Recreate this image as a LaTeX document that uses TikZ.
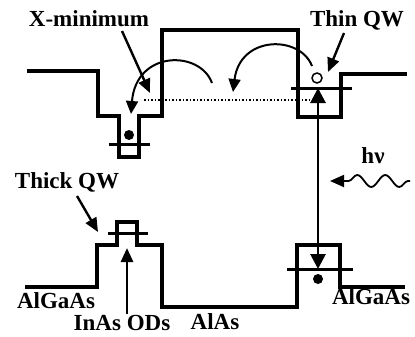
\documentclass[tikz,border=0pt]{standalone}
\usepackage{fontspec}
\setmainfont{Liberation Serif}
\usetikzlibrary{arrows.meta,decorations.pathmorphing}

\begin{document}
\begin{tikzpicture}[
    x=1pt, y=-1pt,
    band/.style={line width=3.3pt, line join=miter},
    level/.style={line width=3pt},
    ptr/.style={-{Triangle[length=14pt,width=12pt]}, line width=2.4pt},
    hop/.style={-{Triangle[length=13pt,width=12pt]}, line width=2pt},
    lbl/.style={font=\fontsize{23}{26}\selectfont\bfseries, inner sep=1pt}
]
\useasboundingbox (0,0) rectangle (415,337);

% conduction band
\draw[band] (27,71) -- (98,71) -- (98,116) -- (119,116) -- (119,157) -- (139,157)
    -- (139,116) -- (162,116) -- (162,30) -- (298,30) -- (298,117) -- (341,117)
    -- (341,74) -- (407,74);
% valence band
\draw[band] (25,287) -- (97,287) -- (97,245) -- (117,245) -- (117,222) -- (137,222)
    -- (137,245) -- (162,245) -- (162,307) -- (297,307) -- (297,245) -- (340,245)
    -- (340,287) -- (405,287);

% confined levels
\draw[level] (109,144) -- (150,144);
\draw[level] (291,88) -- (352,88);
\draw[level] (108,233) -- (148,233);
\draw[level] (287,269) -- (353,269);
\draw[line width=1.5pt, dotted] (144,100) -- (310,100);

% carriers
\fill (129,135) circle (5);
\draw[line width=1.5pt, fill=white] (317,78) circle (5);
\fill (318,279) circle (5);

% labels
\node[lbl] (xlab) at (89,19) {X-minimum};
\node[lbl] (thinlab) at (357,20) {Thin QW};
\node[lbl] (thicklab) at (67,182) {Thick QW};
\node[lbl] (leftlab) at (56,301) {AlGaAs};
\node[lbl] (qdlab) at (122,323) {InAs ODs};
\node[lbl] (alaslab) at (215,322) {AlAs};
\node[lbl] (rightlab) at (371,297) {AlGaAs};
\node[lbl] (hvlab) at (373,156) {hν};

% pointer targets
\coordinate (xtip) at (150,93);
\coordinate (thintip) at (328,72);
\coordinate (thicktip) at (98,232);
\coordinate (qdtip) at (127,248);
\coordinate (upper) at (318,88);
\coordinate (lower) at (318,269);
\coordinate (wstart) at (410,181);
\coordinate (wend) at (330,181);

\draw[ptr] (122,31) -- (xtip);
\draw[ptr] (344,33) -- (thintip);
\draw[ptr] (77,196) -- (thicktip);
\draw[ptr, line width=2.8pt] (qdlab.north -| qdtip) -- (qdtip);
\draw[ptr, line width=2.8pt, {Triangle[length=15pt,width=15pt]}-{Triangle[length=15pt,width=15pt]}] (upper) -- (lower);

% transfer arcs
\draw[hop] (212,83) .. controls (200,50) and (136,50) .. (131,114);
\draw[hop] (312,66) .. controls (300,35) and (240,35) .. (233,92);

% photon
\draw[ptr, line width=1.8pt, decorate,
    decoration={snake, amplitude=6pt, segment length=28pt, pre length=2pt, post length=14pt}]
    (wstart) -- (wend);
\end{tikzpicture}
\end{document}
